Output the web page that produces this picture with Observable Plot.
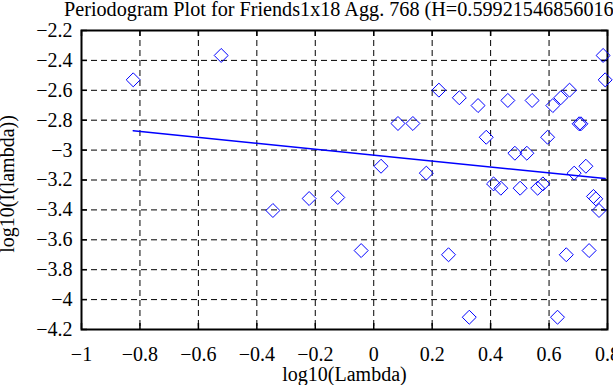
<!DOCTYPE html>
<html>
<head>
<meta charset="utf-8">
<script src="https://cdn.jsdelivr.net/npm/d3@7"></script>
<script src="https://cdn.jsdelivr.net/npm/@observablehq/plot@0.6"></script>
<style>
  html, body { margin: 0; padding: 0; background: #fff; overflow: hidden; }
  svg { font-family: "Liberation Serif", "Times New Roman", serif; }
</style>
</head>
<body>
<div id="chart"></div>
<script>
const titleText = "Periodogram Plot for Friends1x18 Agg. 768 (H=0.599215468560163)";
const xLabelText = "log10(Lambda)";
const yLabelText = "log10(I(lambda))";

const xTicks = [-1, -0.8, -0.6, -0.4, -0.2, 0, 0.2, 0.4, 0.6, 0.8];
const xTickLabels = ["\u22121", "\u22120.8", "\u22120.6", "\u22120.4", "\u22120.2", "0", "0.2", "0.4", "0.6", "0.8"];
const yTicks = [-4.2, -4, -3.8, -3.6, -3.4, -3.2, -3, -2.8, -2.6, -2.4, -2.2];
const yTickLabels = ["\u22124.2", "\u22124", "\u22123.8", "\u22123.6", "\u22123.4", "\u22123.2", "\u22123", "\u22122.8", "\u22122.6", "\u22122.4", "\u22122.2"];

const logLambda = [-0.823, -0.522, -0.345, -0.221, -0.123, -0.043, 0.025, 0.083, 0.134, 0.180,
  0.223, 0.256, 0.293, 0.327, 0.357, 0.385, 0.410, 0.435, 0.459, 0.483,
  0.501, 0.524, 0.542, 0.561, 0.579, 0.595, 0.613, 0.629, 0.640, 0.659,
  0.670, 0.686, 0.703, 0.709, 0.726, 0.737, 0.752, 0.760, 0.771, 0.785, 0.792];
const logI = [-2.530, -2.367, -3.404, -3.324, -3.317, -3.672, -3.108, -2.822, -2.822, -3.154,
  -2.599, -3.700, -2.650, -4.118, -2.702, -2.914, -3.226, -3.255, -2.668, -3.021,
  -3.255, -3.021, -2.668, -3.255, -3.226, -2.914, -2.702, -4.118, -2.650, -3.700,
  -2.599, -3.154, -2.824, -2.824, -3.108, -3.672, -3.310, -3.326, -3.404, -2.367, -2.530];

const fitX = [-0.823, 0.792];
const fitY = [-2.871, -3.190];

const points = logLambda.map((x, i) => ({x, y: logI[i]}));
const fit = fitX.map((x, i) => ({x, y: fitY[i]}));

const W = 613, H = 385;
const mL = 81, mR = 6, mT = 30, mB = 56;
const innerW = W - mL - mR, innerH = H - mT - mB;
const tickLen = 6;
const fs = 20;

const chart = Plot.plot({
  width: W,
  height: H,
  marginLeft: mL,
  marginRight: mR,
  marginTop: mT,
  marginBottom: mB,
  style: {fontFamily: "Liberation Serif", fontSize: fs + "px", background: "#fff", overflow: "visible"},
  x: {domain: [-1, 0.8]},
  y: {domain: [-4.2, -2.2]},
  marks: [
    Plot.gridX(xTicks, {stroke: "black", strokeOpacity: 1, strokeWidth: 1, strokeDasharray: "6,4"}),
    Plot.gridY(yTicks, {stroke: "black", strokeOpacity: 1, strokeWidth: 1, strokeDasharray: "6,4"}),
    Plot.tickX(xTicks, {x: d => d, stroke: "black", strokeWidth: 1.5, insetTop: innerH - tickLen}),
    Plot.tickX(xTicks, {x: d => d, stroke: "black", strokeWidth: 1.5, insetBottom: innerH - tickLen}),
    Plot.tickY(yTicks, {y: d => d, stroke: "black", strokeWidth: 1.5, insetRight: innerW - tickLen}),
    Plot.tickY(yTicks, {y: d => d, stroke: "black", strokeWidth: 1.5, insetLeft: innerW - tickLen}),
    Plot.frame({stroke: "black", strokeWidth: 2}),
    Plot.axisX(xTicks, {tickSize: 0, tickPadding: 17.5, label: null, fontSize: fs,
      tickFormat: d => xTickLabels[xTicks.indexOf(d)]}),
    Plot.axisY(yTicks, {tickSize: 0, tickPadding: 9, label: null, fontSize: fs,
      tickFormat: d => yTickLabels[yTicks.indexOf(d)]}),
    Plot.line(fit, {x: "x", y: "y", stroke: "#0000ff", strokeWidth: 1.5}),
    Plot.dot(points, {x: "x", y: "y", symbol: "diamond2", r: 6.3, stroke: "#0000ff", strokeWidth: 1, fill: "none"}),
    Plot.text([titleText], {frameAnchor: "top-left", textAnchor: "start", dx: 63.5 - mL, dy: -29, fontSize: 20.2, fill: "black"}),
    Plot.text([xLabelText], {frameAnchor: "bottom", textAnchor: "middle", dy: 51, fontSize: fs, fill: "black"}),
    Plot.text([yLabelText], {frameAnchor: "left", textAnchor: "middle", rotate: -90, dx: 7.5 - mL, dy: 4, fontSize: fs, fill: "black"})
  ]
});
document.getElementById("chart").appendChild(chart);
</script>
</body>
</html>
